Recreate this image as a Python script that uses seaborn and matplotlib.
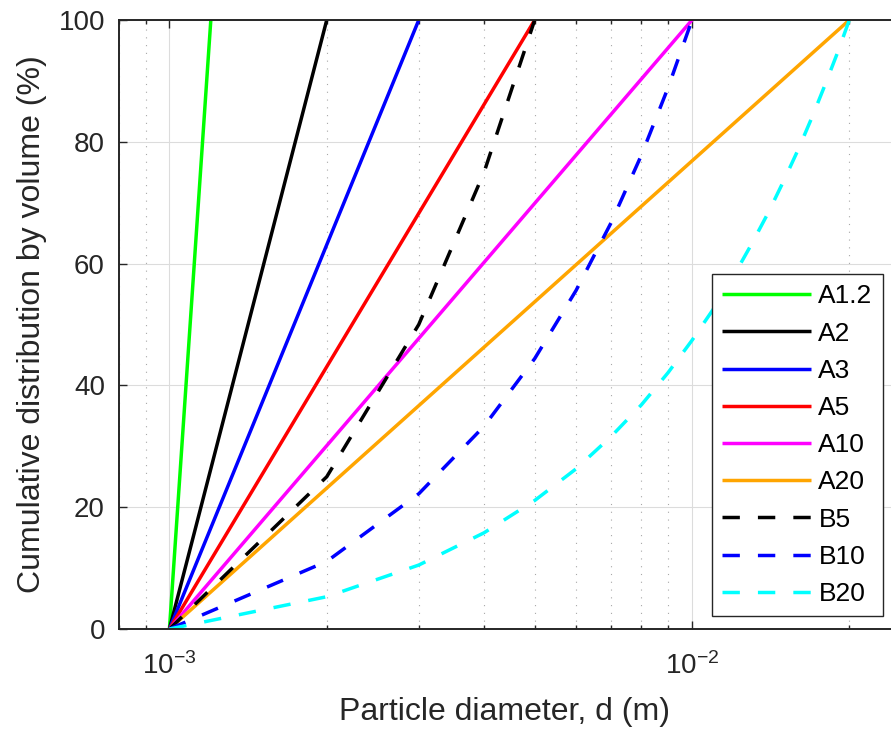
import matplotlib
matplotlib.use("Agg")
import matplotlib.pyplot as plt
import seaborn as sns
import numpy as np
import pandas as pd
from matplotlib.ticker import LogLocator, NullFormatter, LogFormatterSciNotation

sns.set_theme(style="white")
plt.rcParams['font.family'] = ['Liberation Sans', 'DejaVu Sans']
plt.rcParams['mathtext.fontset'] = 'custom'
plt.rcParams['mathtext.rm'] = 'Liberation Sans'

# ---- data (diameter in mm, cumulative % by volume) ----
names = ["A1.2", "A2", "A3", "A5", "A10", "A20", "B5", "B10", "B20"]
colors = ["#00FF00", "#000000", "#0000FF", "#FF0000", "#FF00FF", "#FFA500",
          "#000000", "#0000FF", "#00FFFF"]
dashed = [False, False, False, False, False, False, True, True, True]

d_A12 = [1.0, 1.2]
v_A12 = [0, 100]
d_A2 = [1.0, 2.0]
v_A2 = [0, 100]
d_A3 = [1.0, 3.0]
v_A3 = [0, 100]
d_A5 = [1.0, 5.0]
v_A5 = [0, 100]
d_A10 = [1.0, 10.0]
v_A10 = [0, 100]
d_A20 = [1.0, 20.0]
v_A20 = [0, 100]
d_B5 = [1, 2, 3, 4, 5]
v_B5 = [0, 25, 50, 75, 100]
d_B10 = [1, 2, 3, 4, 5, 6, 7, 8, 9, 10]
v_B10 = [0, 11.1, 22.2, 33.3, 44.4, 55.6, 66.7, 77.8, 88.9, 100]
d_B20 = [1, 2, 3, 4, 5, 6, 7, 8, 9, 10, 11, 12, 13, 14, 15, 16, 17, 18, 19, 20]
v_B20 = [0, 5.3, 10.5, 15.8, 21.1, 26.3, 31.6, 36.8, 42.1, 47.4,
         52.6, 57.9, 63.2, 68.4, 73.7, 78.9, 84.2, 89.5, 94.7, 100]

series_d = [d_A12, d_A2, d_A3, d_A5, d_A10, d_A20, d_B5, d_B10, d_B20]
series_v = [v_A12, v_A2, v_A3, v_A5, v_A10, v_A20, v_B5, v_B10, v_B20]

W, H = 891, 734
fig = plt.figure(figsize=(W / 100, H / 100), dpi=100)
ax = fig.add_axes([118.8 / W, 1 - 629 / H, 771.9 / W, 609 / H])
ax.set_xscale('log')

for name, col, dsh, dd, vv in zip(names, colors, dashed, series_d, series_v):
    df = pd.DataFrame({"d": np.array(dd, dtype=float) * 1e-3, "v": vv})
    sns.lineplot(data=df, x="d", y="v", ax=ax, color=col, linewidth=2.5,
                 label=name, estimator=None, sort=False, legend=False)
    ln = ax.lines[-1]
    ln.set_solid_capstyle('butt')
    if dsh:
        ln.set_dashes((5, 5.2))
        ln.set_dash_capstyle('butt')

ax.set_xlim(8e-4, 2.4e-2)
ax.set_ylim(0, 100)
ax.set_yticks([0, 20, 40, 60, 80, 100])
ax.xaxis.set_major_locator(LogLocator(base=10))
ax.xaxis.set_minor_locator(LogLocator(base=10, subs=np.arange(2, 10)))
ax.xaxis.set_major_formatter(LogFormatterSciNotation())
ax.xaxis.set_minor_formatter(NullFormatter())

ax.set_axisbelow(True)
ax.grid(True, which='major', axis='both', color='#DCDCDC', linewidth=0.8, linestyle='-')
ax.grid(True, which='minor', axis='x', color='#A8A8A8', linewidth=0.8,
        linestyle=(0, (1, 6)))

for side in ['left', 'bottom', 'top']:
    ax.spines[side].set_color('#262626')
    ax.spines[side].set_linewidth(1.4)
ax.spines['right'].set_visible(False)

ax.tick_params(axis='x', which='both', direction='in', top=True, bottom=True,
               colors='#262626', labelsize=20, pad=17)
ax.tick_params(axis='x', which='major', length=5.5, width=1.0)
ax.tick_params(axis='x', which='minor', length=3, width=1.0)
ax.tick_params(axis='y', which='major', direction='in', left=True, right=False,
               length=5.5, width=1.0, colors='#262626', labelsize=20, pad=10)

ax.set_xlabel("Particle diameter, d (m)", fontsize=23, color='#262626', labelpad=12)
ax.set_ylabel("Cumulative distribution by volume (%)", fontsize=23, color='#262626',
              labelpad=8)

leg = ax.legend(loc='lower right', bbox_to_anchor=(882.7 / W, 1 - 616 / H),
                bbox_transform=fig.transFigure, fontsize=19, frameon=True,
                fancybox=False, framealpha=1, edgecolor='#262626',
                handlelength=3.35, handletextpad=0.3, labelspacing=0.5,
                borderpad=0.38, borderaxespad=0)
leg.get_frame().set_linewidth(1.0)
for t in leg.get_texts():
    t.set_color('#000000')

fig.savefig("out.png", dpi=100)
